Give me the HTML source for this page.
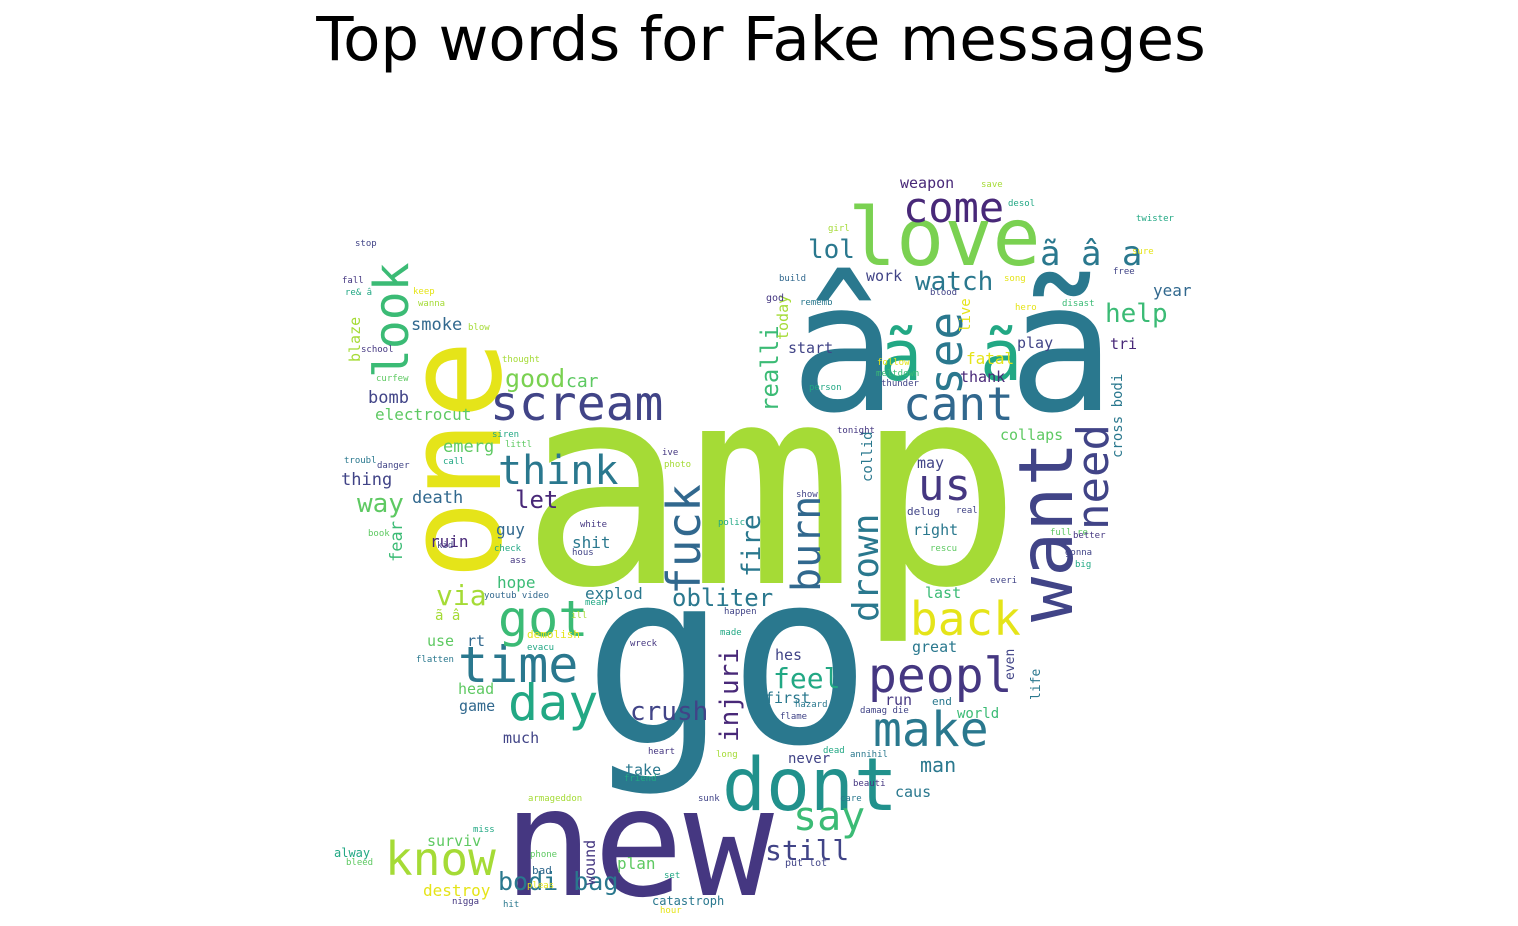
<!DOCTYPE html>
<html><head><meta charset="utf-8"><style>
html,body{margin:0;padding:0;background:#fff;width:1518px;height:926px;overflow:hidden}
svg{display:block}
text{font-family:"DejaVu Sans Mono","Liberation Mono",monospace}
</style></head><body>
<svg id="chart" width="1518" height="926" viewBox="0 0 1518 926" xmlns="http://www.w3.org/2000/svg">
<text x="761" y="60" text-anchor="middle" style="font-family:'DejaVu Sans','Liberation Sans',sans-serif;font-size:61px" fill="#000">Top words for Fake messages</text>
<g id="cloud"></g>
</svg>
<script>
var Y="#e5e419",YG="#a5db36",LG="#7ad151",G="#5ec962",G2="#3bbb75",T3="#22a884",T2="#21918c",T="#2a788e",B="#31688e",P2="#414487",P="#453781",DP="#482878";
// word, x, baseline y, font size, color, rotated
var words=[
["amp",520,583,278,YG,0],["go",583,742,240,T,0],["new",503,895,150,P,0],
["â",790,410,178,T,0],["ã",1008,410,178,T,0],
["one",500,580,133,Y,1],["love",848,265,80,LG,0],["want",1072,622,75,P2,1],
["dont",722,810,73,T2,0],["peopl",868,692,48,P,0],["make",873,746,48,T,0],
["back",910,635,46,Y,0],["scream",490,420,48,P2,0],["time",458,682,50,T,0],
["day",508,720,50,T3,0],["got",498,636,50,G2,0],["know",385,875,46,YG,0],
["think",498,484,40,T,0],["look",408,378,48,G2,1],["come",903,222,42,DP,0],
["cant",903,420,46,B,0],["ã",880,380,70,T3,0],["ã",980,380,70,T3,0],["see",962,395,46,T,1],["us",918,500,44,P,0],
["need",1108,530,44,P2,1],["fuck",700,595,46,B,1],["burn",820,592,40,B,1],
["drown",878,622,36,T,1],["say",793,830,40,G2,0],["still",765,860,28,P2,0],
["feel",773,688,28,T3,0],["crush",630,720,26,P2,0],["injuri",738,742,26,DP,1],
["obliter",672,606,24,T,0],["fire",760,577,26,T,1],["realli",778,412,24,G2,1],
["bodi bag",498,890,25,T,0],["watch",915,290,26,T,0],["help",1105,322,26,G2,0],
["lol",808,258,26,T,0],["ã â a",1040,265,34,T,0],["good",505,387,25,LG,0],["car",566,387,18,G,0],
["via",436,605,28,YG,0],["way",357,512,26,G,0],["let",515,508,24,DP,0],
["smoke",411,330,17,B,0],["bomb",368,403,17,P2,0],["electrocut",375,420,16,G,0],
["emerg",443,452,17,G,0],["thing",341,485,17,P2,0],["death",412,503,17,B,0],
["fear",402,562,17,G2,1],["blaze",360,362,15,YG,1],["ruin",430,547,16,DP,0],
["guy",496,535,16,B,0],["shit",572,548,16,T,0],["hope",497,588,16,G2,0],
["explod",585,599,16,T,0],["ã â",435,620,14,YG,0],["use",427,646,15,G,0],
["rt",467,646,15,B,0],["head",458,694,15,G,0],["game",459,711,15,B,0],
["much",503,743,15,P2,0],["surviv",427,846,15,G,0],["alway",334,857,12,T3,0],
["destroy",423,896,16,Y,0],["take",625,775,15,T,0],["plan",617,869,16,G,0],
["catastroph",652,905,12,T,0],["wound",595,885,15,P,1],["weapon",900,188,15,DP,0],
["work",866,281,15,P2,0],["start",788,353,15,P2,0],["year",1153,296,16,B,0],
["tri",1110,349,15,DP,0],["play",1017,348,15,P2,0],["fatal",966,364,16,Y,0],
["thank",960,382,15,DP,0],["live",970,332,14,Y,1],["today",788,340,15,YG,1],
["collaps",1000,440,15,G,0],["cross bodi",1122,458,14,T,1],["may",917,468,15,P2,0],
["collid",872,482,14,T,1],["right",913,535,15,T,0],["delug",907,515,11,P2,0],
["last",925,598,15,G2,0],["great",912,652,15,T,0],["even",1014,680,13,P2,1],
["life",1040,700,13,T,1],["run",885,705,15,P,0],["end",932,705,11,T,0],
["world",957,718,14,G2,0],["man",920,772,20,T,0],["caus",895,797,15,T,0],
["never",788,763,14,P2,0],["hes",775,660,15,P2,0],["first",765,703,15,T,0],
["stop",355,246,9,P2,0],["fall",342,283,9,P,0],["keep",413,294,9,Y,0],["wanna",418,306,9,YG,0],
["school",361,352,9,P,0],["curfew",376,381,9,G,0],["troubl",344,463,9,T,0],["danger",377,468,9,P2,0],
["call",443,464,9,T3,0],["siren",492,437,9,T3,0],["littl",505,447,9,G,0],["book",368,536,9,G,0],
["kid",437,548,9,P2,0],["check",494,551,9,T3,0],["ass",510,563,9,P,0],["white",580,527,9,P,0],
["hous",572,555,9,P2,0],["youtub video",484,598,9,B,0],["mean",585,605,9,T3,0],["ill",571,618,9,YG,0],
["ive",662,455,9,P,0],["photo",664,467,9,YG,0],["tonight",837,433,9,P,0],["polic",718,525,9,T3,0],
["show",796,497,9,P2,0],["damag die",860,713,9,P2,0],["hazard",795,707,9,T,0],["flame",780,719,9,P2,0],
["heart",648,754,9,P,0],["long",716,757,9,YG,0],["friend",624,781,9,T3,0],["armageddon",528,801,9,YG,0],
["sunk",698,801,9,P2,0],["care",840,801,9,T,0],["beauti",853,786,9,P,0],["annihil",850,757,9,T,0],
["dead",823,753,9,T3,0],["wreck",630,646,9,P,0],["happen",724,614,9,P2,0],["made",720,635,9,T3,0],
["full re",1050,535,9,G,0],["better",1073,538,9,P,0],["gonna",1065,555,9,P2,0],["big",1075,567,9,T3,0],
["everi",990,583,9,P2,0],["rescu",930,551,9,G,0],["real",956,513,9,P2,0],["save",981,187,9,YG,0],
["desol",1008,206,9,T3,0],["twister",1136,221,9,T3,0],["girl",828,231,9,YG,0],["sure",1132,254,9,Y,0],
["free",1113,274,9,P2,0],["song",1004,281,9,Y,0],["build",779,281,9,B,0],["god",766,301,10,P,0],
["rememb",800,305,9,T,0],["blood",930,295,9,P2,0],["disast",1062,306,9,G2,0],["hero",1015,310,9,Y,0],
["follow",877,365,9,Y,0],["meltdown",876,376,9,G2,0],["person",809,390,9,T3,0],["thunder",881,386,9,P2,0],
["miss",473,832,9,T3,0],["bleed",346,865,9,G,0],["phone",530,857,9,G,0],["bad",532,874,11,B,0],
["pleas",527,888,9,Y,0],["nigga",452,904,9,P,0],["hit",503,907,9,T,0],["set",664,878,9,T3,0],
["hour",660,913,9,Y,0],["put lot",785,866,10,P2,0],["flatten",416,662,9,T,0],["evacu",527,650,9,T3,0],
["demolish",527,638,11,Y,0],["re& â",345,295,9,T3,0],["blow",468,330,9,YG,0],["thought",502,362,9,YG,0]
];
var g=document.getElementById('cloud');
var NS="http://www.w3.org/2000/svg";
words.forEach(function(w,i){
  var t=document.createElementNS(NS,'text');
  t.textContent=w[0];
  t.setAttribute('x',w[1]);
  t.setAttribute('y',w[2]);
  t.setAttribute('font-size',w[3]);
  t.setAttribute('fill',w[4]);
  if(w[5]) t.setAttribute('transform','rotate(-90 '+w[1]+' '+w[2]+')');
  
  
  g.appendChild(t);
});
</script>
</body></html>
